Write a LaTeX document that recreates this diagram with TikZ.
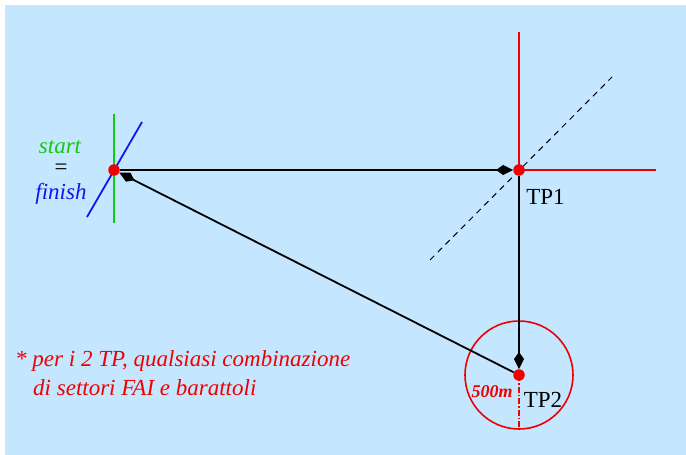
\documentclass[tikz,border=0pt]{standalone}
\usepackage{fontspec}
\setmainfont{Liberation Serif}
\usetikzlibrary{arrows.meta}
\definecolor{bg}{RGB}{196,231,255}
\definecolor{fgreen}{RGB}{20,200,20}
\definecolor{fblue}{RGB}{20,20,240}
\definecolor{fred}{RGB}{240,0,0}
\begin{document}
\begin{tikzpicture}[x=1pt,y=-1pt,
  dot/.style={circle,fill=fred,inner sep=0pt,minimum size=11.5pt},
  leg/.style={draw=black,line width=1.8pt,-{Kite[length=17pt,width=10pt,inset=7pt]}},
  lbl/.style={font=\fontsize{23}{27}\selectfont,inner sep=0pt},
  note/.style={font=\fontsize{23}{27}\selectfont\itshape,text=fred,inner sep=0pt,anchor=base west}]
\useasboundingbox (0,0) rectangle (686,455);
\fill[bg] (5,5) rectangle (686,455);
% sector lines
\draw[fgreen,line width=1.8pt] (114,114) -- (114,223);
\draw[fblue,line width=1.8pt] (87,217) -- (142,122);
\draw[fred,line width=1.8pt] (519,32) -- (519,170) -- (656,170);
\draw[black,line width=1pt,dash pattern=on 6pt off 5pt] (430,260) -- (612,77);
\draw[fred,line width=1.6pt] (519,375) circle[radius=54];
\draw[fred,line width=1.4pt,dash pattern=on 6pt off 2pt on 1.5pt off 2pt] (519,375) -- (519,429);
% turn points
\node[dot] (S) at (114,170) {};
\node[dot] (T1) at (519,170) {};
\node[dot] (T2) at (519,375) {};
\draw[leg] (S) -- (T1);
\draw[leg] (T1) -- (T2);
\draw[leg] (T2) -- (S);
% labels
\node[lbl,text=fgreen,font=\fontsize{23}{27}\selectfont\itshape,anchor=base] (st) at (60,153) {start};
\node[lbl] (eq) at (61,169) {=};
\node[lbl,text=fblue,font=\fontsize{23}{27}\selectfont\itshape,anchor=base] (fi) at (61,199) {finish};
\node[lbl] (l1) at (545.5,197) {TP1};
\node[lbl] (l2) at (543,399.5) {TP2};
\node[lbl,text=fred,font=\fontsize{18}{21}\selectfont\bfseries\itshape] (r) at (492,392) {500m};
\node[note] (n1) at (15,366) {* per i 2 TP, qualsiasi combinazione};
\node[note] (n2) at (33,395) {di settori FAI e barattoli};
\end{tikzpicture}
\end{document}
